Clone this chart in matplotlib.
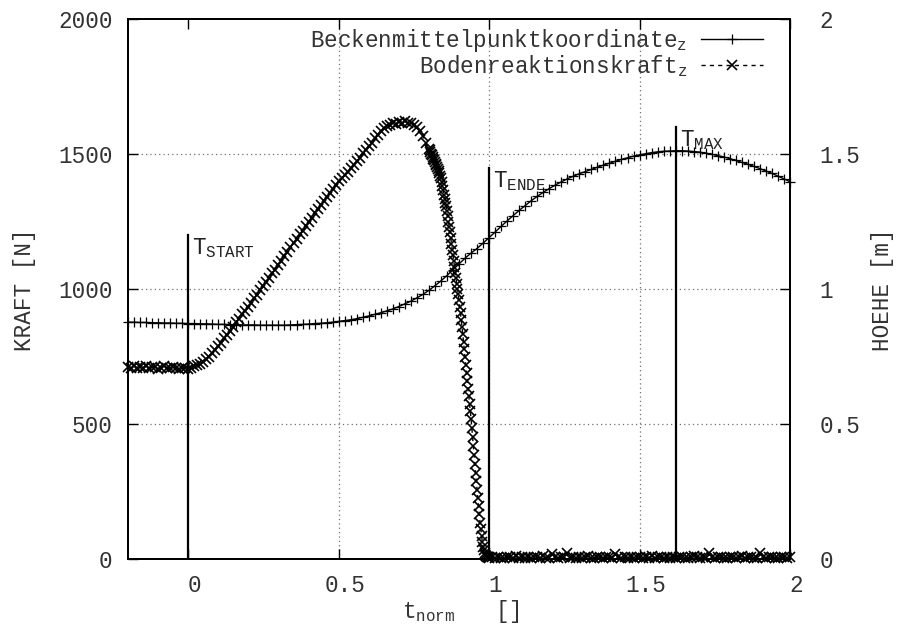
import numpy as np
import matplotlib
matplotlib.use("Agg")
import matplotlib.pyplot as plt
from matplotlib.transforms import ScaledTranslation

plt.rcParams["font.family"] = ["Liberation Mono", "DejaVu Sans"]
plt.rcParams["mathtext.fontset"] = "custom"
plt.rcParams["mathtext.rm"] = "Liberation Mono"
plt.rcParams["mathtext.it"] = "Liberation Mono"
plt.rcParams["mathtext.bf"] = "Liberation Mono:bold"

# ---- data ---------------------------------------------------------------
# ground reaction force, z component [N], recorded in three blocks:
# stance / push-off (coarse), take-off drop (fine), flight phase (coarse)
force_stance_t0, force_stance_dt = -0.2, 0.01
force_stance = [
    712, 708, 715, 706, 711, 709, 714, 707, 710, 712,
    705, 709, 713, 708, 706, 711, 709, 704, 707, 706,
    705, 708, 713, 717, 724, 730, 741, 749, 763, 774,
    790, 801, 817, 829, 846, 860, 877, 890, 906, 918,
    935, 949, 966, 978, 996, 1010, 1027, 1040, 1058, 1072,
    1090, 1104, 1122, 1136, 1154, 1170, 1185, 1202, 1216, 1234,
    1250, 1264, 1282, 1295, 1312, 1325, 1342, 1354, 1372, 1384,
    1400, 1410, 1424, 1434, 1449, 1460, 1474, 1486, 1502, 1514,
    1530, 1542, 1558, 1569, 1585, 1596, 1603, 1608, 1614, 1612,
    1619, 1615, 1621, 1614, 1616, 1609, 1600, 1585, 1566, 1540,
]

force_drop_t0, force_drop_dt = 0.80, 0.0025
force_drop = [
    1520, 1514, 1508, 1501, 1495, 1489, 1483, 1476,
    1470, 1464, 1458, 1451, 1445, 1437, 1428, 1420,
    1410, 1396, 1381, 1366, 1350, 1335, 1320, 1306,
    1290, 1270, 1250, 1231, 1210, 1189, 1167, 1146,
    1125, 1104, 1083, 1061, 1040, 1020, 1000, 980,
    960, 935, 910, 885, 860, 833, 805, 778,
    750, 720, 690, 660, 630, 603, 575, 548,
    520, 486, 452, 419, 385, 353, 320, 288,
    255, 225, 195, 165, 135, 110, 85, 63,
    45, 32, 21, 15, 12, 9, 7, 6,
]

force_flight_t0, force_flight_dt = 1.0, 0.01
force_flight = [
    4, 7, 3, 9, 5, 2, 8, 6, 4, 10,
    3, 7, 5, 9, 2, 6, 8, 4, 11, 5,
    3, 18, 7, 4, 6, 9, 22, 5, 8, 3,
    6, 4, 7, 10, 5, 3, 8, 6, 4, 9,
    7, 5, 19, 6, 3, 8, 5, 7, 4, 9,
    6, 3, 7, 5, 10, 4, 6, 8, 3, 7,
    5, 9, 4, 6, 8, 5, 3, 7, 10, 6,
    4, 8, 5, 21, 7, 3, 6, 9, 4, 5,
    8, 6, 3, 7, 10, 4, 6, 8, 5, 3,
    24, 7, 4, 6, 9, 5, 3, 8, 6, 4,
    7,
]

# pelvis centre coordinate, z component [m]
height_t0, height_dt = -0.2, 0.02
height_m = [
    0.877, 0.877, 0.876, 0.876, 0.875, 0.875, 0.874, 0.874, 0.873, 0.873,
    0.872, 0.872, 0.871, 0.871, 0.870, 0.869, 0.869, 0.868, 0.868, 0.867,
    0.867, 0.867, 0.866, 0.866, 0.866, 0.866, 0.866, 0.867, 0.868, 0.869,
    0.870, 0.872, 0.873, 0.875, 0.877, 0.880, 0.883, 0.886, 0.890, 0.895,
    0.900, 0.906, 0.912, 0.919, 0.926, 0.935, 0.945, 0.955, 0.967, 0.980,
    0.995, 1.012, 1.030, 1.050, 1.071, 1.093, 1.114, 1.133, 1.150, 1.170,
    1.190, 1.211, 1.232, 1.252, 1.272, 1.291, 1.309, 1.327, 1.343, 1.358,
    1.372, 1.385, 1.397, 1.408, 1.418, 1.427, 1.435, 1.443, 1.451, 1.459,
    1.466, 1.473, 1.480, 1.486, 1.492, 1.497, 1.501, 1.505, 1.508, 1.510,
    1.511, 1.512, 1.512, 1.511, 1.509, 1.507, 1.503, 1.499, 1.494, 1.489,
    1.483, 1.476, 1.469, 1.462, 1.454, 1.446, 1.437, 1.428, 1.418, 1.408,
    1.397,
]

# event markers: name, normalised time, top of the marker line [N]
event_names = ["START", "ENDE", "MAX"]
event_times = [0.0, 1.0, 1.62]
event_tops = [1200, 1450, 1600]

x_ticks = [0, 0.5, 1, 1.5, 2]
x_ticklabels = ["0", "0.5", "1", "1.5", "2"]
force_ticks = [0, 500, 1000, 1500, 2000]
height_ticks = [0, 0.5, 1, 1.5, 2]
height_ticklabels = ["0", "0.5", "1", "1.5", "2"]

label_height = r"Beckenmittelpunktkoordinate$_\mathrm{z}$"
label_force = r"Bodenreaktionskraft$_\mathrm{z}$"


def sample_times(t0, dt, values):
    return t0 + dt * np.arange(len(values))


t_force = np.concatenate([
    sample_times(force_stance_t0, force_stance_dt, force_stance),
    sample_times(force_drop_t0, force_drop_dt, force_drop),
    sample_times(force_flight_t0, force_flight_dt, force_flight),
])
force_n = np.concatenate([force_stance, force_drop, force_flight])
t_height = sample_times(height_t0, height_dt, height_m)

# ---- figure -------------------------------------------------------------
FS = 16.3
W, H = 897, 630
fig = plt.figure(figsize=(W / 100, H / 100), dpi=100)
ax = fig.add_axes([128 / W, 71 / H, 662 / W, 540 / H])
ax2 = ax.twinx()

# grid
grid_style = dict(color="#707070", linewidth=0.9, linestyle=(0, (1, 2.5)))
for gx in x_ticks[1:-1]:
    ax.axvline(gx, **grid_style, zorder=0)
for gy in force_ticks[1:-1]:
    ax.axhline(gy, **grid_style, zorder=0)

# force curve (left axis)
h_force, = ax.plot(t_force, force_n, color="black", linewidth=1.0,
                   linestyle=(0, (3, 3)), marker="x", markersize=7.5,
                   markeredgewidth=1.2, zorder=3, clip_on=False)

# event markers
for name, te, top in zip(event_names, event_times, event_tops):
    ax.plot([te, te], [0, top], color="black", linewidth=1.6, zorder=4)
    ax.annotate("T$_\\mathrm{%s}$" % name, xy=(te, top), xytext=(3, -1),
                textcoords="offset points", ha="left", va="top",
                fontsize=FS, color="#222222", zorder=5)

# height curve (right axis)
h_height, = ax2.plot(t_height, height_m, color="black", linewidth=1.0,
                     marker="+", markersize=6.5, markeredgewidth=0.9,
                     zorder=3, clip_on=False)

ax.set_xlim(-0.2, 2)
ax.set_ylim(0, 2000)
ax2.set_ylim(0, 2)

ax.set_xticks(x_ticks)
ax.set_xticklabels(x_ticklabels)
ax.set_yticks(force_ticks)
ax2.set_yticks(height_ticks)
ax2.set_yticklabels(height_ticklabels)

tick_kw = dict(direction="in", length=7, width=1.0, colors="black",
               labelcolor="#333333", labelsize=FS)
ax.tick_params(axis="x", top=True, bottom=True, pad=11, **tick_kw)
ax.tick_params(axis="y", left=True, right=False, pad=11, **tick_kw)
ax2.tick_params(axis="y", right=True, left=False, pad=21, **tick_kw)

shift = ScaledTranslation(6 / 100, 0, fig.dpi_scale_trans)
for lbl in ax.get_xticklabels():
    lbl.set_transform(lbl.get_transform() + shift)

for a in (ax, ax2):
    for sp in a.spines.values():
        sp.set_linewidth(1.4)
        sp.set_color("black")

fig.text(25 / W, 1 - 290 / H, "KRAFT [N]", rotation=90, ha="center",
         va="center", fontsize=FS, color="#333333")
fig.text(882 / W, 1 - 290 / H, "HOEHE [m]", rotation=90, ha="center",
         va="center", fontsize=FS, color="#333333")
fig.text(461 / W, 1 - 618 / H, "t$_\\mathrm{norm}$   []", ha="center",
         va="baseline", fontsize=FS, color="#333333")

leg = ax2.legend([h_height, h_force], [label_height, label_force],
                 loc="upper right", bbox_to_anchor=(0.959, 0.985),
                 borderaxespad=0, borderpad=0, frameon=False,
                 markerfirst=False, handlelength=2.75, handletextpad=0.6,
                 labelspacing=-0.05, fontsize=FS)
for txt in leg.get_texts():
    txt.set_color("#333333")

fig.savefig("out.png", dpi=100)
